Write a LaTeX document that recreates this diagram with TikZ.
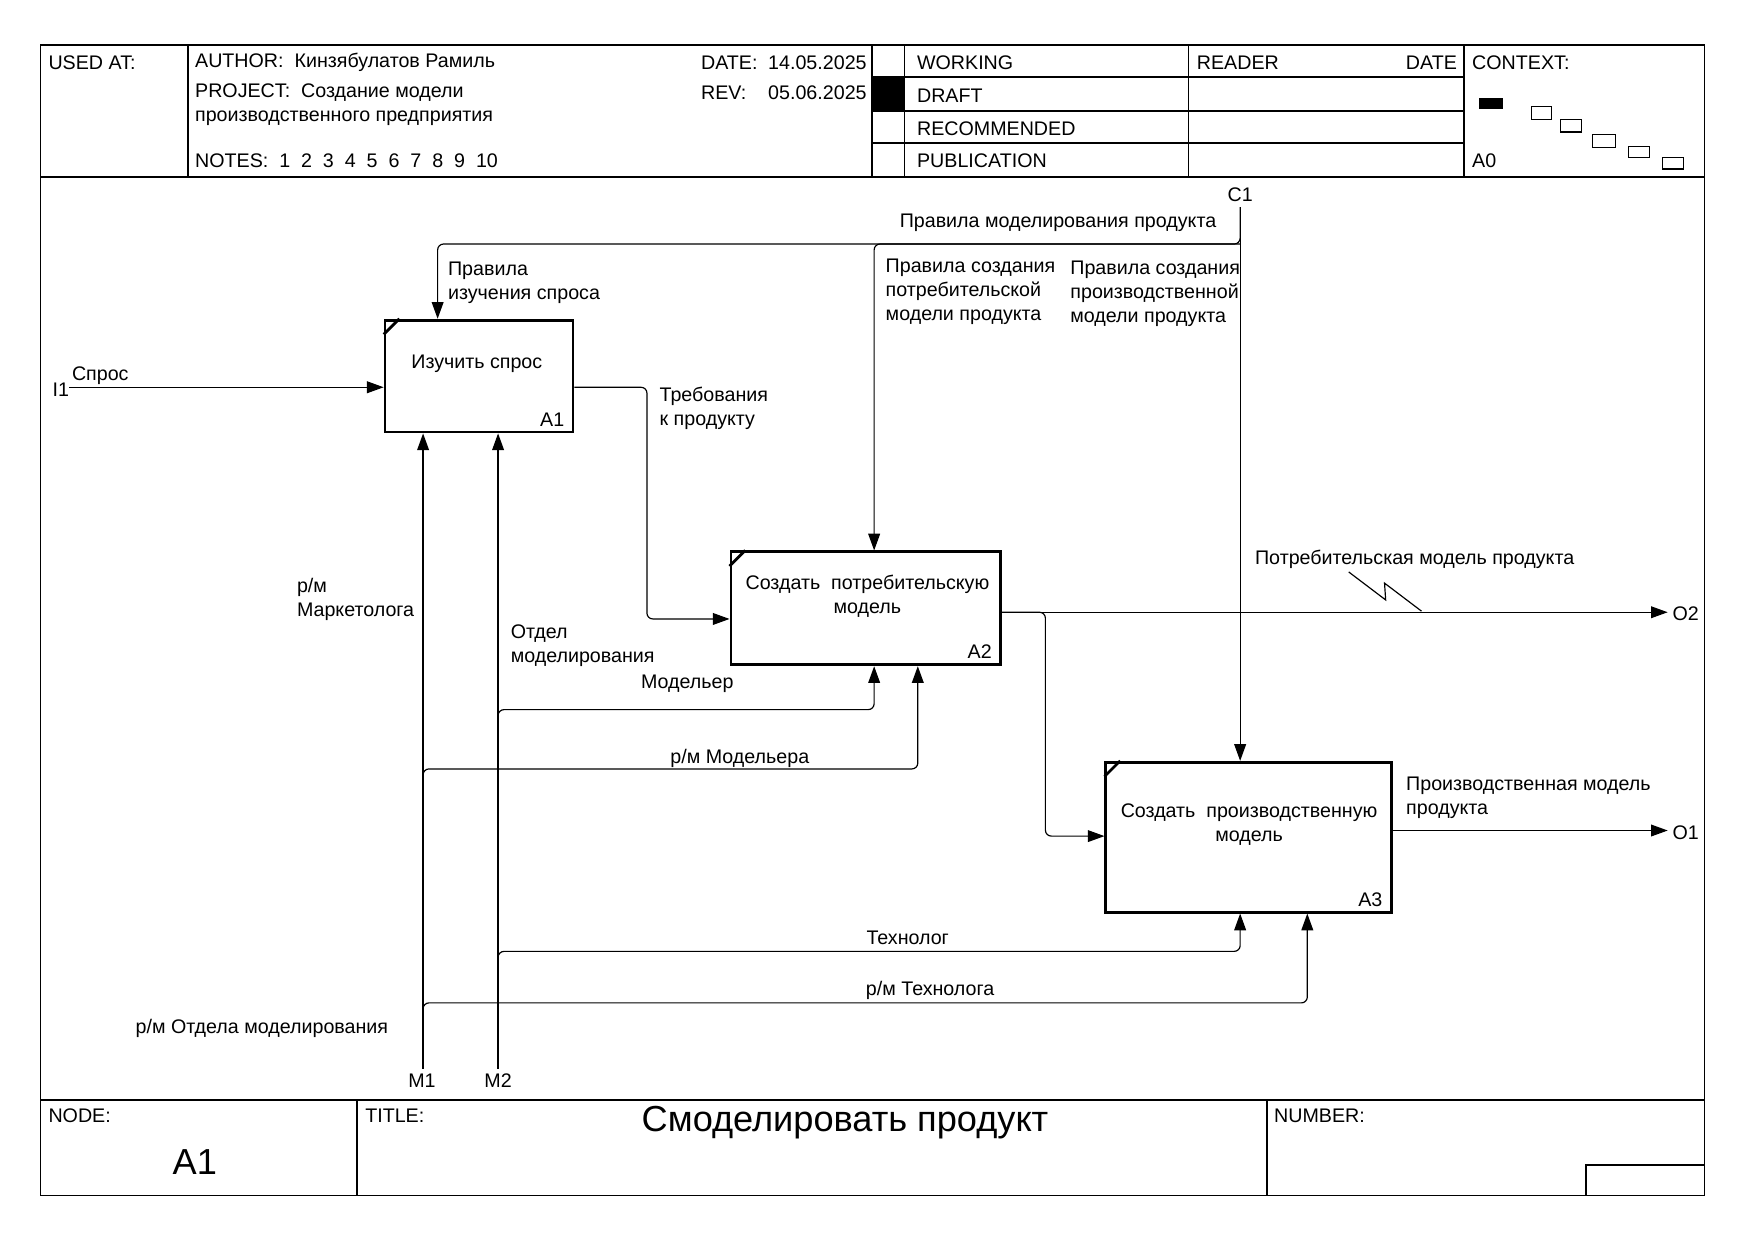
\documentclass[tikz,border=0pt]{standalone}
\usepackage{fontspec}
\setmainfont{Liberation Sans}
\usetikzlibrary{arrows.meta}

\begin{document}
\begin{tikzpicture}[x=0.02cm, y=-0.02cm,
		font=\fontsize{10}{12.3}\selectfont,
		frame/.style={line width=0.8pt},
		func/.style={draw, line width=1.4pt, inner sep=0pt},
		arr/.style={line width=0.6pt, rounded corners=3pt, -{Triangle[length=8.5pt, width=6pt]}},
		txt/.style={inner sep=0pt, align=left, yshift=-1.5},
		big/.style={inner sep=0pt, font=\fontsize{18.4}{22}\selectfont}]
			\useasboundingbox (0, 0) rectangle (1568, 1109);
			% frame and header
			\draw [frame] (36, 40) rectangle (1523, 1068);
			\draw [frame] (36, 158) -- (1523, 158);
			\draw [frame] (36, 983) -- (1523, 983);
			\draw [frame] (168, 40) -- (168, 158);
			\draw [frame] (779, 40) -- (779, 158);
			\draw [frame] (808, 40) -- (808, 158);
			\draw [frame] (1062, 40) -- (1062, 158);
			\draw [frame] (1308, 40) -- (1308, 158);
			\draw [frame] (779, 69) -- (1308, 69);
			\draw [frame] (779, 99) -- (1308, 99);
			\draw [frame] (779, 128) -- (1308, 128);
			\fill (779, 69) rectangle (808, 99);
			\draw [frame] (319, 983) -- (319, 1068);
			\draw [frame] (1132, 983) -- (1132, 1068);
			\draw [frame] (1417, 1068) -- (1417, 1041) -- (1523, 1041);
			\node [txt, anchor=west] at (43, 53) {USED AT:};
			\node [txt, anchor=west] at (174, 53) {AUTHOR:\ \ Кинзябулатов Рамиль};
			\node [txt, anchor=west] at (174, 91) {PROJECT:\ \ Создание модели\\производственного предприятия};
			\node [txt, anchor=west] at (174, 141) {NOTES:\ \ 1\ \ 2\ \ 3\ \ 4\ \ 5\ \ 6\ \ 7\ \ 8\ \ 9\ \ 10};
			\node [txt, anchor=west] at (626, 53) {DATE:};
			\node [txt, anchor=west] at (686, 53) {14.05.2025};
			\node [txt, anchor=west] at (626, 80) {REV:};
			\node [txt, anchor=west] at (686, 80) {05.06.2025};
			\node [txt, anchor=west] at (819, 53) {WORKING};
			\node [txt, anchor=west] at (819, 83) {DRAFT};
			\node [txt, anchor=west] at (819, 112) {RECOMMENDED};
			\node [txt, anchor=west] at (819, 141) {PUBLICATION};
			\node [txt, anchor=west] at (1069, 53) {READER};
			\node [txt, anchor=east] at (1302, 53) {DATE};
			\node [txt, anchor=west] at (1315, 53) {CONTEXT:};
			\node [txt, anchor=west] at (1315, 141) {A0};
			% context boxes
			\fill (1321, 88) rectangle (1343, 97);
			\draw [line width=0.6pt] (1368, 95) rectangle (1386, 107);
			\draw [line width=0.6pt] (1394, 107) rectangle (1413, 118);
			\draw [line width=0.6pt] (1423, 120) rectangle (1443, 132);
			\draw [line width=0.6pt] (1455, 131) rectangle (1474, 141);
			\draw [line width=0.6pt] (1485, 141) rectangle (1504, 151);
			% footer
			\node [txt, anchor=west] at (43, 994) {NODE:};
			\node [big] at (174, 1038) {A1};
			\node [txt, anchor=west] at (326, 994) {TITLE:};
			\node [big] at (755, 1003) {Смоделировать продукт};
			\node [txt, anchor=west] at (1138, 994) {NUMBER:};
			% functions
			\node [func, minimum width=3.36cm, minimum height=2cm] (A1) at (428, 336) {};
			\node [func, minimum width=4.82cm, minimum height=2.02cm] (A2) at (773.5, 543.5) {};
			\node [func, minimum width=5.1cm, minimum height=2.68cm] (A3) at (1115.5, 748) {};
			\foreach \f in {A1, A2, A3}
				\draw [line width=1.4pt] ([yshift=-0.28cm]\f.north west) -- ([xshift=0.28cm]\f.north west);
			\node [txt] at (426, 322) {Изучить спрос};
			\node [txt, anchor=south east] at ([xshift=-5pt, yshift=5pt]A1.south east) {A1};
			\node [txt, align=center] at (775, 530) {Создать\ \ потребительскую\\модель};
			\node [txt, anchor=south east] at ([xshift=-5pt, yshift=5pt]A2.south east) {A2};
			\node [txt, align=center] at (1116, 734) {Создать\ \ производственную\\модель};
			\node [txt, anchor=south east] at ([xshift=-5pt, yshift=5pt]A3.south east) {A3};
			% boundary points
			\coordinate (I1) at (62, 346);
			\coordinate (C1) at (1108, 185);
			\coordinate (M1) at (378, 955);
			\coordinate (M2) at (445, 955);
			\coordinate (O1) at (1490, 742);
			\coordinate (O2) at (1490, 547);
			\coordinate (c1) at (391, 218);
			\coordinate (c2) at (781, 218);
			\coordinate (r1) at (578, 553);
			\coordinate (r2) at (934, 747);
			\coordinate (m2a) at (781, 634);
			\coordinate (m1a) at (820, 687);
			\coordinate (m2b) at (1108, 850);
			\coordinate (m1b) at (1168, 896);
			% arrows
			\draw [arr] (I1) -- (I1 -| A1.west);
			\draw [arr] (C1) -- (C1 |- A3.north);
			\draw [arr] (C1) |- (c1) -- (c1 |- A1.north);
			\draw [arr] (C1 |- c2) -| (c2 |- A2.north);
			\draw [arr] (A1.east |- I1) -| (r1) -- (r1 -| A2.west);
			\draw [arr] (A2.east |- O2) -- (O2);
			\draw [arr] (A2.east |- O2) -| (r2) -- (r2 -| A3.west);
			\draw [arr] (A3.east |- O1) -- (O1);
			\draw [arr] (M1) -- (M1 |- A1.south);
			\draw [arr] (M2) -- (M2 |- A1.south);
			\draw [arr] (M2) |- (m2a) -- (m2a |- A2.south);
			\draw [arr] (M1) |- (m1a) -- (m1a |- A2.south);
			\draw [arr] (M2) |- (m2b) -- (m2b |- A3.south);
			\draw [arr] (M1) |- (m1b) -- (m1b |- A3.south);
			\draw [line width=0.6pt] (1205, 511) -- (1238, 536) -- (1237, 521) -- (1270, 546);
			% labels
			\node [txt, anchor=east] at (I1) {I1};
			\node [txt, anchor=west] at (64, 333) {Спрос};
			\node [txt] at (1108, 171) {C1};
			\node [txt, anchor=east] at (1087, 196) {Правила моделирования продукта};
			\node [txt, anchor=west] at (400, 250) {Правила\\изучения спроса};
			\node [txt, anchor=west] at (791, 258) {Правила создания\\потребительской\\модели продукта};
			\node [txt, anchor=west] at (956, 260) {Правила создания\\производственной\\модели продукта};
			\node [txt, anchor=west] at (589, 362) {Требования\\к продукту};
			\node [txt, anchor=west] at (1121, 497) {Потребительская модель продукта};
			\node [txt, anchor=west] at (1494, 546) {O2};
			\node [txt, anchor=west] at (1256, 710) {Производственная модель\\продукта};
			\node [txt, anchor=west] at (1494, 741) {O1};
			\node [txt, anchor=west] at (265, 533) {р/м\\Маркетолога};
			\node [txt, anchor=west] at (456, 574) {Отдел\\моделирования};
			\node [txt] at (614, 608) {Модельер};
			\node [txt] at (661, 675) {р/м Модельера};
			\node [txt] at (811, 835) {Технолог};
			\node [txt] at (831, 882) {р/м Технолога};
			\node [txt] at (234, 916) {р/м Отдела моделирования};
			\node [txt] at (377, 963) {M1};
			\node [txt] at (445, 963) {M2};
	\end{tikzpicture}
\end{document}
